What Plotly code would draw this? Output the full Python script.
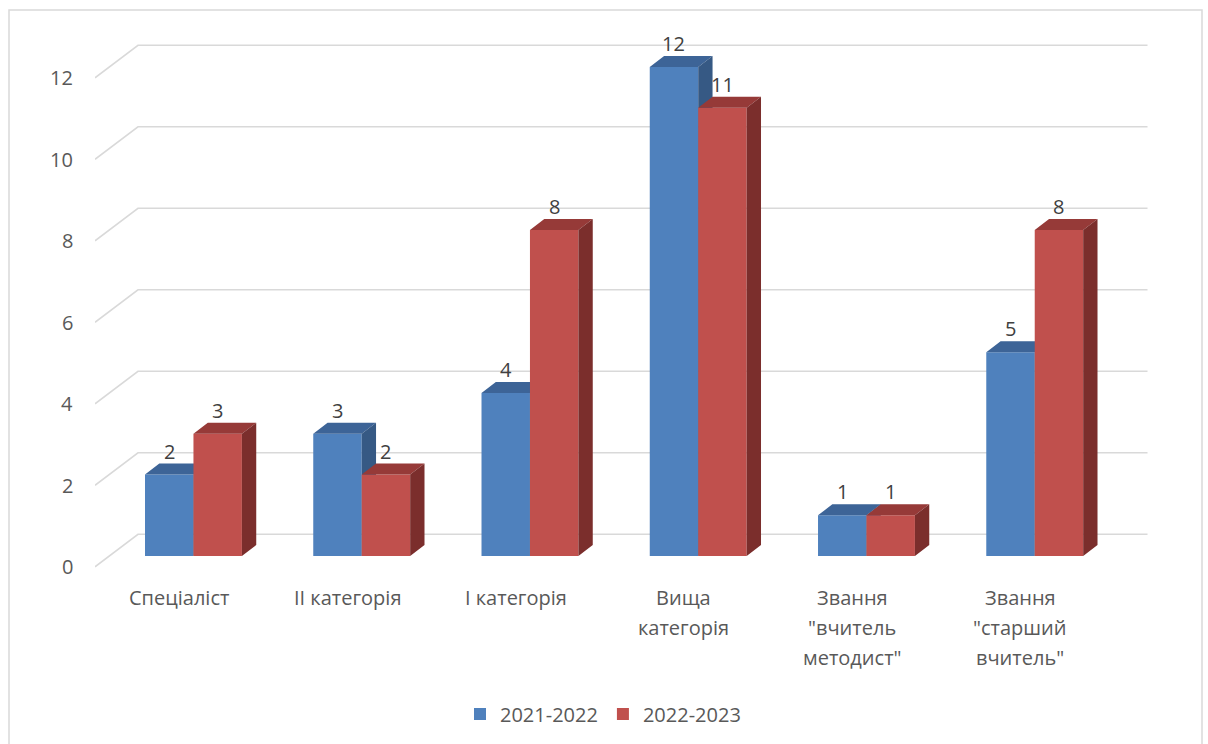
import plotly.graph_objects as go

# ---------------- data ----------------
CATEGORIES = [
    ["Спеціаліст"],
    ["ІІ категорія"],
    ["І категорія"],
    ["Вища", "категорія"],
    ["Звання", "\"вчитель", "методист\""],
    ["Звання", "\"старший", "вчитель\""],
]
SERIES_NAMES = ["2021-2022", "2022-2023"]
VALUES_2021_2022 = [2, 3, 4, 12, 1, 5]
VALUES_2022_2023 = [3, 2, 8, 11, 1, 8]
Y_TICKS = [0, 2, 4, 6, 8, 10, 12]

# ---------------- style ----------------
FRONT = ["#4F81BD", "#C0504D"]
TOP = ["#3D6497", "#963A38"]
SIDE = ["#365984", "#7B2E2C"]
GRID = "#D9D9D9"
TXT = "#595959"
LBL = "#404040"
FONT = "Open Sans"

W, H = 1208, 744
ML, MR, MT, MB = 95, 53, 37, 164
XR = [-0.5, 5.8]
YR = [-0.3, 13.0]
DX, DY = 0.2555, 0.797          # full depth of the 3D box (data units)
FX, FY = DX / 3, DY / 3          # bar front plane offset
BW = 0.288                       # bar width

n = len(CATEGORIES)
series = [VALUES_2021_2022, VALUES_2022_2023]

fig = go.Figure()

for s, vals in enumerate(series):
    xa = "x" if s == 0 else "x2"
    ya = "y" if s == 0 else "y2"
    xs = [i + FX for i in range(n)]
    fig.add_trace(go.Bar(
        x=xs, y=vals, base=[FY] * n, width=[BW] * n,
        offset=[-BW if s == 0 else 0] * n,
        marker=dict(color=FRONT[s], line=dict(width=0)),
        name=SERIES_NAMES[s], xaxis=xa, yaxis=ya, hoverinfo="skip",
    ))
    topx, topy, sidex, sidey = [], [], [], []
    for i, v in enumerate(vals):
        x0 = i + FX - (BW if s == 0 else 0)
        x1 = x0 + BW
        yt = v + FY
        topx += [x0, x1, x1 + FX, x0 + FX, x0, None]
        topy += [yt, yt, yt + FY, yt + FY, yt, None]
        sidex += [x1, x1, x1 + FX, x1 + FX, x1, None]
        sidey += [FY, yt, yt + FY, FY + FY, FY, None]
    fig.add_trace(go.Scatter(x=topx, y=topy, mode="lines", fill="toself",
                             fillcolor=TOP[s], line=dict(width=0), showlegend=False,
                             hoverinfo="skip", xaxis=xa, yaxis=ya))
    fig.add_trace(go.Scatter(x=sidex, y=sidey, mode="lines", fill="toself",
                             fillcolor=SIDE[s], line=dict(width=0), showlegend=False,
                             hoverinfo="skip", xaxis=xa, yaxis=ya))

# gridlines (back wall + diagonal)
shapes = []
for v in Y_TICKS:
    x0 = XR[0]
    path = f"M {x0},{v} L {x0 + DX},{v + DY} L {x0 + n + DX},{v + DY}"
    shapes.append(dict(type="path", path=path, xref="x", yref="y", layer="below",
                       line=dict(color=GRID, width=1.6)))

# outer border
pw = W - ML - MR
ph = H - MT - MB
def px2paperx(p):
    return (p - ML) / pw
def py2papery(p):
    return (H - MB - p) / ph
shapes.append(dict(type="rect", xref="paper", yref="paper",
                   x0=px2paperx(9), x1=px2paperx(1202), y0=py2papery(760), y1=py2papery(10),
                   line=dict(color=GRID, width=1.5), fillcolor="rgba(0,0,0,0)", layer="below"))

annotations = []
# y tick labels
for v in Y_TICKS:
    annotations.append(dict(x=XR[0], y=v, xref="x", yref="y", text=str(v), showarrow=False,
                            xanchor="right", yanchor="middle", xshift=-20,
                            font=dict(family=FONT, size=20, color=TXT)))
# category labels
for i, lines in enumerate(CATEGORIES):
    for k, line in enumerate(lines):
        annotations.append(dict(x=i, y=0, xref="x", yref="paper", text=line, showarrow=False,
                                xanchor="center", yanchor="middle", yshift=-18 - 30 * k,
                                font=dict(family=FONT, size=20, color=TXT)))
# data labels
for s, vals in enumerate(series):
    for i, v in enumerate(vals):
        cx = i + FX + (-BW / 2 if s == 0 else BW / 2)
        annotations.append(dict(x=cx, y=v + 0.84, xref="x", yref="y", text=str(v),
                                showarrow=False, xanchor="center", yanchor="middle",
                                font=dict(family=FONT, size=20, color=LBL)))

axis_common = dict(showgrid=False, zeroline=False, showticklabels=False, showline=False,
                   ticks="", fixedrange=True)
fig.update_layout(
    width=W, height=H,
    margin=dict(l=ML, r=MR, t=MT, b=MB, pad=0),
    paper_bgcolor="white", plot_bgcolor="rgba(0,0,0,0)",
    font=dict(family=FONT, size=20, color=TXT),
    barmode="overlay",
    xaxis=dict(range=XR, automargin=False, **axis_common),
    yaxis=dict(range=YR, automargin=False, **axis_common),
    xaxis2=dict(range=XR, overlaying="x", visible=False, fixedrange=True),
    yaxis2=dict(range=YR, overlaying="y", visible=False, fixedrange=True),
    shapes=shapes,
    annotations=annotations,
    showlegend=True,
    legend=dict(orientation="h", x=px2paperx(603), xanchor="center",
                y=py2papery(714), yanchor="middle", itemwidth=30,
                font=dict(family=FONT, size=20, color=TXT), itemclick=False,
                itemdoubleclick=False, bgcolor="rgba(0,0,0,0)"),
)

fig.write_html("out.html",
               config={"displayModeBar": False, "staticPlot": True},
               post_script="document.body.style.margin='0';document.body.style.overflow='hidden';")
